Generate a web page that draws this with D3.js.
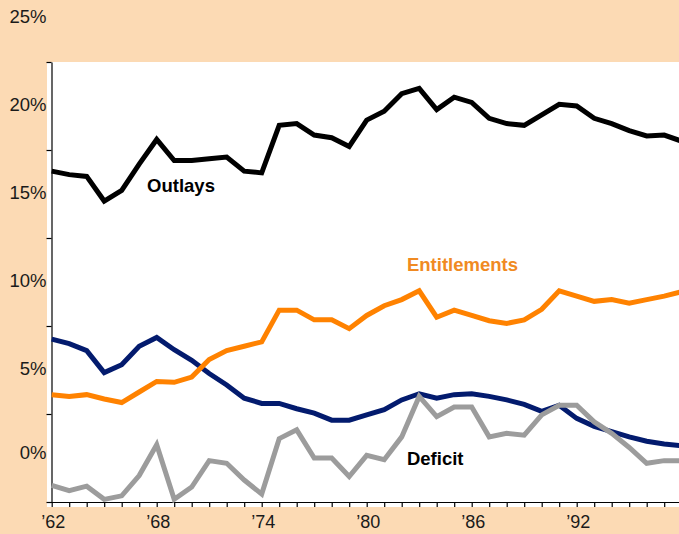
<!DOCTYPE html>
<html>
<head>
<meta charset="utf-8">
<script src="https://cdn.jsdelivr.net/npm/d3@7"></script>
<style>
  body { margin: 0; background: #fcdab4; }
  svg { display: block; font-family: "Liberation Sans", Arial, sans-serif; }
</style>
</head>
<body>
<div id="chart"></div>
<script>
// years 1962 - 1998, values in % of GDP
var years = d3.range(1962, 1999);

var outlays = [18.8, 18.6, 18.5, 17.1, 17.7, 19.2, 20.6, 19.4, 19.4, 19.5,
               19.6, 18.8, 18.7, 21.4, 21.5, 20.85, 20.7, 20.2, 21.7, 22.2,
               23.2, 23.5, 22.3, 23.0, 22.7, 21.8, 21.5, 21.4, 22.0, 22.6,
               22.5, 21.8, 21.5, 21.1, 20.8, 20.85, 20.5];

var entitlements = [6.1, 6.0, 6.1, 5.85, 5.65, 6.25, 6.85, 6.8, 7.1, 8.1,
                    8.6, 8.85, 9.1, 10.9, 10.9, 10.35, 10.35, 9.85, 10.6, 11.15,
                    11.5, 12.0, 10.5, 10.9, 10.6, 10.3, 10.15, 10.35, 10.95, 12.0,
                    11.7, 11.4, 11.5, 11.3, 11.5, 11.7, 11.95];

var defense = [9.25, 9.0, 8.6, 7.35, 7.8, 8.85, 9.35, 8.65, 8.05, 7.3,
               6.65, 5.9, 5.6, 5.6, 5.3, 5.05, 4.65, 4.65, 4.95, 5.25,
               5.8, 6.15, 5.9, 6.1, 6.15, 6.0, 5.8, 5.55, 5.15, 5.5,
               4.75, 4.3, 4.0, 3.7, 3.45, 3.3, 3.2];

var deficit = [0.95, 0.65, 0.9, 0.15, 0.35, 1.5, 3.25, 0.15, 0.85, 2.35,
               2.2, 1.25, 0.45, 3.6, 4.1, 2.5, 2.5, 1.45, 2.65, 2.4,
               3.7, 6.0, 4.85, 5.4, 5.4, 3.7, 3.9, 3.8, 4.95, 5.5,
               5.5, 4.55, 3.9, 3.1, 2.2, 2.35, 2.35];

var yTicks = [0, 5, 10, 15, 20, 25];
var xLabelYears = [1962, 1968, 1974, 1980, 1986, 1992];

var w = 679;
var h = 534;

var svg = d3.select("#chart")
            .append("svg")
            .attr("width", w)
            .attr("height", h);

svg.append("rect")
   .attr("width", w)
   .attr("height", h)
   .attr("fill", "#fcdab4");

// white plot panel
svg.append("rect")
   .attr("x", 47)
   .attr("y", 62)
   .attr("width", w - 47)
   .attr("height", 445)
   .attr("fill", "#ffffff");

var x = d3.scaleLinear()
          .domain([1962, 1998])
          .range([51.7, 51.7 + 36 * 17.5]);

var y = d3.scaleLinear()
          .domain([0, 25])
          .range([502, 62]);

// y axis: ticks only, labels sit between ticks like the original
svg.append("g")
   .attr("transform", "translate(51.5,0)")
   .call(d3.axisLeft(y).tickValues(yTicks).tickSize(5).tickSizeOuter(0).tickFormat(""))
   .call(function(g) {
     g.selectAll("path, line").attr("stroke", "#000").attr("stroke-width", 1.2);
   });

svg.append("g")
   .selectAll("text")
   .data(yTicks)
   .enter()
   .append("text")
   .attr("x", 46.5)
   .attr("y", function(d) {
     return y(d === 0 ? 2.8 : d + 2.6);
   })
   .attr("dy", "0.36em")
   .attr("text-anchor", "end")
   .attr("font-size", "18.5px")
   .attr("fill", "#1a1a1a")
   .text(function(d) { return d + "%"; });

// x axis: one tick per year
svg.append("g")
   .attr("transform", "translate(0,502)")
   .call(d3.axisBottom(x).tickValues(years.slice(0, 36)).tickSize(5).tickSizeOuter(0).tickFormat(""))
   .call(function(g) {
     g.select("path").attr("d", "M47,0.5H" + w);
     g.selectAll("path, line").attr("stroke", "#000").attr("stroke-width", 1.2);
   });

svg.append("g")
   .selectAll("text")
   .data(xLabelYears)
   .enter()
   .append("text")
   .attr("x", function(d) { return x(d) + 1.5; })
   .attr("y", 528)
   .attr("text-anchor", "middle")
   .attr("font-size", "18px")
   .attr("fill", "#1a1a1a")
   .text(function(d) { return "\u2019" + String(d).slice(2); });

var line = d3.line()
             .x(function(d, i) { return x(years[i]); })
             .y(function(d) { return y(d); });

var series = [
  {values: defense, color: "#031b6e"},
  {values: entitlements, color: "#ff8200"},
  {values: outlays, color: "#000000"},
  {values: deficit, color: "#9c9c9c"}
];

svg.selectAll("path.series")
   .data(series)
   .enter()
   .append("path")
   .attr("class", "series")
   .attr("d", function(d) { return line(d.values); })
   .attr("fill", "none")
   .attr("stroke", function(d) { return d.color; })
   .attr("stroke-width", 5)
   .attr("stroke-linejoin", "miter");

// series names
var names = [
  {text: "Outlays", year: 1967.45, value: 17.6, color: "#000000"},
  {text: "Entitlements", year: 1982.3, value: 13.1, color: "#f08a22"},
  {text: "Deficit", year: 1982.3, value: 2.13, color: "#000000"}
];

svg.selectAll("text.name")
   .data(names)
   .enter()
   .append("text")
   .attr("class", "name")
   .attr("x", function(d) { return x(d.year); })
   .attr("y", function(d) { return y(d.value); })
   .attr("font-size", "18.5px")
   .attr("font-weight", "bold")
   .attr("fill", function(d) { return d.color; })
   .text(function(d) { return d.text; });
</script>
</body>
</html>
